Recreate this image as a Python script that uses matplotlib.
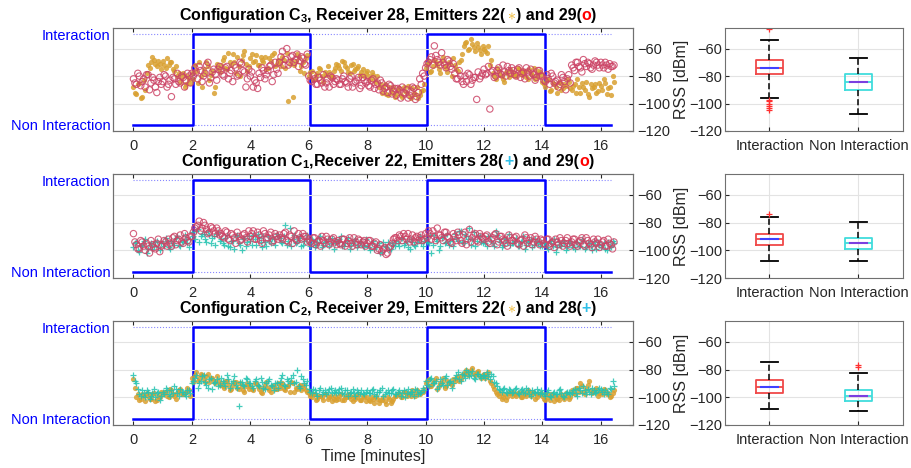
import numpy as np
import matplotlib
matplotlib.use('Agg')
import matplotlib.pyplot as plt
from matplotlib.offsetbox import TextArea, HPacker, AnchoredOffsetbox

plt.rcParams['font.family'] = ['Liberation Sans', 'DejaVu Sans']
plt.rcParams['mathtext.fontset'] = 'custom'
plt.rcParams['mathtext.rm'] = 'Liberation Sans'
plt.rcParams['mathtext.bf'] = 'Liberation Sans:bold'

# time axis: one sample every 0.1 minute from 0, second pass shifted by 0.05
t_start, t_step, t_shift = 0.0, 0.1, 0.05

# interaction state (1 = interaction, 0 = non interaction)
switch_times = [0, 2.05, 6.05, 10.05, 14.1, 16.35]
switch_state = [0, 1, 0, 1, 0, 0]

# configuration C3, receiver 28
c3_em22 = [-88, -93, -85, -95, -90, -72, -70, -68, -73, -71,
           -69, -74, -72, -70, -76, -80, -84, -78, -86, -82,
           -78, -72, -85, -80, -75, -70, -83, -76, -88, -74,
           -72, -66, -75, -70, -64, -78, -73, -68, -62, -76,
           -67, -70, -65, -72, -68, -66, -74, -69, -63, -71,
           -70, -66, -74, -98, -68, -72, -64, -76, -70, -67,
           -80, -76, -82, -78, -75, -84, -79, -77, -81, -74,
           -72, -76, -70, -74, -78, -71, -75, -73, -77, -80,
           -76, -82, -79, -84, -88, -92, -86, -94, -90, -88,
           -93, -89, -95, -91, -87, -96, -92, -88, -94, -90,
           -74, -70, -76, -68, -72, -78, -66, -74, -70, -80,
           -72, -76, -68, -58, -55, -60, -57, -62, -59, -64,
           -60, -63, -72, -78, -82, -76, -80, -84, -78, -75,
           -77, -80, -75, -79, -76, -82, -78, -74, -80, -77,
           -84, -88, -82, -90, -86, -92, -85, -89, -87, -84,
           -90, -86, -82, -92, -88, -84, -95, -89, -86, -91,
           -87, -82, -93, -88, -80]
c3_em22_b = [-92, -86, -96, -83, -78, -74, -66, -71, -69, -75,
             -72, -67, -70, -75, -73, -78, -81, -88, -80, -85,
             -82, -76, -70, -88, -78, -73, -79, -92, -71, -77,
             -68, -74, -63, -72, -70, -66, -80, -65, -71, -73,
             -64, -69, -72, -66, -70, -75, -67, -65, -73, -68,
             -73, -68, -63, -71, -95, -69, -66, -73, -78, -65,
             -77, -83, -79, -74, -80, -77, -73, -80, -76, -71,
             -74, -69, -73, -77, -72, -76, -74, -79, -75, -78,
             -80, -77, -83, -80, -86, -89, -93, -88, -92, -95,
             -90, -94, -88, -92, -95, -89, -93, -96, -91, -86,
             -71, -77, -73, -70, -75, -69, -73, -77, -71, -67,
             -75, -70, -64, -56, -61, -53, -59, -56, -61, -58,
             -62, -58, -68, -80, -74, -79, -82, -77, -81, -79,
             -79, -74, -78, -76, -81, -75, -79, -82, -76, -79,
             -86, -83, -91, -85, -88, -84, -90, -86, -82, -89,
             -87, -92, -88, -85, -90, -93, -86, -88, -92, -85,
             -90, -85, -89, -94, -84]
c3_em29 = [-82, -86, -80, -84, -88, -79, -85, -83, -92, -81,
           -84, -80, -86, -95, -82, -78, -85, -81, -83, -80,
           -78, -74, -82, -76, -80, -72, -85, -77, -79, -75,
           -76, -80, -73, -78, -84, -74, -79, -71, -77, -82,
           -80, -88, -85, -78, -74, -82, -76, -72, -79, -75,
           -70, -62, -68, -72, -66, -70, -64, -69, -67, -72,
           -80, -84, -82, -86, -83, -79, -85, -88, -81, -84,
           -83, -86, -80, -85, -82, -88, -84, -81, -87, -83,
           -84, -88, -82, -86, -90, -85, -89, -92, -87, -91,
           -94, -90, -88, -93, -96, -91, -89, -95, -82, -78,
           -74, -70, -66, -58, -68, -72, -70, -74, -69, -75,
           -78, -82, -80, -86, -84, -79, -83, -81, -77, -80,
           -75, -78, -104, -76, -80, -74, -79, -77, -73, -78,
           -76, -80, -74, -78, -82, -77, -75, -79, -81, -76,
           -80, -84, -82, -78, -85, -83, -86, -81, -90, -79,
           -72, -76, -70, -74, -68, -73, -71, -75, -69, -72,
           -70, -74, -72, -71, -73]
c3_em29_b = [-85, -78, -87, -82, -79, -90, -81, -88, -84, -86,
             -79, -88, -83, -81, -86, -84, -80, -88, -78, -85,
             -80, -77, -73, -84, -78, -70, -81, -75, -83, -73,
             -79, -74, -82, -76, -72, -80, -70, -76, -88, -75,
             -77, -83, -89, -81, -76, -79, -73, -84, -70, -78,
             -66, -72, -60, -70, -65, -68, -73, -66, -71, -64,
             -83, -79, -86, -81, -85, -88, -82, -80, -86, -82,
             -86, -82, -84, -88, -80, -85, -83, -89, -81, -85,
             -87, -83, -89, -85, -83, -91, -88, -86, -93, -89,
             -89, -96, -92, -90, -94, -88, -97, -92, -86, -80,
             -71, -68, -72, -65, -70, -63, -72, -68, -73, -71,
             -82, -76, -84, -80, -78, -86, -81, -97, -82, -78,
             -79, -73, -77, -81, -76, -78, -72, -80, -76, -74,
             -79, -75, -81, -77, -74, -80, -78, -83, -76, -80,
             -83, -79, -86, -80, -84, -88, -79, -84, -82, -85,
             -74, -70, -73, -77, -71, -70, -74, -72, -70, -74,
             -72, -70, -75, -73, -72]

# configuration C1, receiver 22
c1_em28 = [-98, -94, -101, -96, -92, -99, -95, -97, -93, -100,
           -95, -91, -98, -93, -96, -90, -97, -94, -92, -98,
           -87, -92, -85, -90, -88, -94, -89, -91, -96, -87,
           -92, -96, -89, -98, -93, -90, -95, -100, -91, -94,
           -93, -89, -96, -91, -98, -94, -90, -95, -92, -88,
           -91, -95, -82, -93, -97, -89, -94, -90, -96, -92,
           -95, -92, -98, -94, -90, -96, -93, -97, -91, -95,
           -94, -90, -97, -93, -99, -95, -92, -96, -94, -98,
           -96, -100, -93, -98, -95, -101, -97, -94, -99, -96,
           -93, -97, -91, -95, -98, -92, -96, -94, -90, -97,
           -91, -95, -102, -89, -93, -97, -90, -94, -96, -92,
           -88, -93, -86, -95, -90, -84, -92, -97, -89, -94,
           -93, -97, -90, -95, -86, -92, -98, -91, -94, -96,
           -95, -91, -97, -93, -99, -94, -92, -96, -93, -97,
           -97, -94, -99, -95, -92, -98, -96, -93, -100, -95,
           -96, -99, -94, -97, -93, -98, -95, -100, -96, -94,
           -98, -95, -100, -97, -93]
c1_em28_b = [-95, -100, -97, -93, -102, -96, -99, -94, -98, -95,
             -97, -93, -99, -95, -91, -96, -93, -89, -95, -92,
             -90, -86, -94, -88, -92, -86, -95, -90, -88, -93,
             -95, -91, -97, -93, -99, -89, -96, -92, -97, -90,
             -96, -92, -88, -94, -90, -97, -93, -91, -96, -90,
             -94, -90, -96, -84, -92, -95, -91, -97, -93, -89,
             -97, -93, -96, -91, -98, -94, -92, -95, -99, -93,
             -92, -97, -95, -91, -96, -93, -98, -94, -97, -92,
             -98, -95, -99, -96, -102, -94, -98, -100, -95, -97,
             -95, -91, -96, -93, -99, -94, -97, -92, -95, -93,
             -94, -89, -96, -92, -100, -91, -95, -88, -93, -97,
             -91, -86, -94, -88, -92, -96, -87, -93, -90, -95,
             -95, -90, -93, -97, -89, -94, -96, -92, -88, -95,
             -93, -97, -94, -90, -96, -93, -98, -92, -95, -94,
             -95, -98, -93, -97, -101, -94, -97, -95, -98, -93,
             -98, -94, -97, -92, -99, -95, -97, -93, -99, -96,
             -96, -99, -94, -98, -95]
c1_em29 = [-88, -96, -99, -94, -100, -97, -93, -98, -95, -101,
           -96, -94, -92, -97, -90, -93, -89, -95, -91, -94,
           -90, -84, -82, -86, -80, -85, -87, -84, -88, -86,
           -88, -91, -87, -93, -89, -95, -90, -92, -88, -94,
           -90, -86, -92, -89, -95, -88, -91, -87, -93, -90,
           -89, -92, -87, -94, -90, -86, -93, -91, -88, -90,
           -92, -95, -91, -94, -97, -93, -90, -96, -92, -94,
           -93, -96, -92, -95, -91, -97, -94, -92, -96, -93,
           -95, -93, -97, -94, -99, -101, -98, -102, -97, -92,
           -91, -89, -93, -90, -88, -92, -94, -90, -91, -93,
           -88, -86, -92, -90, -84, -89, -93, -87, -91, -95,
           -90, -87, -93, -89, -96, -85, -91, -88, -94, -90,
           -92, -89, -95, -91, -88, -94, -90, -93, -97, -91,
           -93, -90, -96, -92, -89, -95, -91, -94, -92, -96,
           -93, -96, -92, -95, -98, -94, -91, -97, -93, -95,
           -94, -92, -97, -93, -96, -91, -95, -98, -94, -92,
           -96, -93, -97, -95, -99]
c1_em29_b = [-94, -99, -93, -97, -95, -102, -96, -99, -92, -97,
             -93, -97, -95, -91, -96, -92, -94, -88, -93, -90,
             -87, -83, -79, -84, -82, -88, -83, -86, -84, -89,
             -90, -86, -92, -88, -91, -87, -93, -89, -91, -86,
             -88, -92, -87, -93, -86, -91, -89, -94, -88, -92,
             -91, -88, -93, -89, -95, -92, -88, -92, -90, -94,
             -94, -91, -96, -93, -90, -95, -92, -94, -91, -96,
             -95, -92, -97, -93, -95, -91, -96, -93, -94, -97,
             -93, -97, -95, -100, -96, -99, -103, -98, -95, -91,
             -93, -90, -88, -92, -94, -89, -91, -93, -89, -92,
             -91, -88, -86, -93, -89, -91, -87, -90, -94, -88,
             -93, -89, -95, -87, -92, -94, -89, -93, -88, -91,
             -90, -94, -92, -89, -96, -90, -92, -95, -89, -93,
             -91, -95, -93, -97, -91, -93, -96, -90, -94, -92,
             -95, -92, -97, -94, -92, -96, -93, -95, -91, -97,
             -92, -96, -94, -91, -97, -93, -96, -92, -95, -98,
             -94, -97, -92, -96, -94]

# configuration C2, receiver 29
c2_em22 = [-87, -100, -102, -98, -103, -99, -101, -97, -102, -100,
           -98, -96, -100, -95, -99, -97, -94, -98, -96, -95,
           -86, -84, -88, -83, -87, -85, -89, -86, -90, -88,
           -90, -93, -88, -95, -91, -89, -94, -92, -96, -90,
           -92, -95, -90, -94, -97, -91, -93, -96, -92, -94,
           -93, -90, -95, -92, -89, -96, -94, -91, -93, -95,
           -97, -100, -98, -101, -99, -102, -98, -100, -103, -99,
           -101, -98, -102, -100, -99, -103, -101, -98, -102, -100,
           -100, -103, -101, -99, -104, -102, -103, -100, -104, -101,
           -99, -97, -100, -96, -98, -99, -97, -95, -98, -96,
           -90, -87, -92, -88, -94, -90, -86, -92, -89, -91,
           -88, -85, -87, -83, -80, -82, -79, -84, -81, -86,
           -83, -85, -88, -92, -96, -99, -101, -98, -100, -97,
           -96, -99, -97, -100, -98, -95, -99, -97, -100, -98,
           -99, -102, -100, -98, -103, -101, -99, -100, -97, -101,
           -95, -98, -93, -90, -96, -94, -88, -97, -95, -99,
           -96, -94, -98, -100, -97]
c2_em22_b = [-93, -98, -101, -99, -97, -101, -98, -103, -99, -96,
             -96, -99, -94, -98, -101, -95, -98, -97, -93, -99,
             -89, -82, -86, -84, -89, -83, -86, -88, -85, -91,
             -92, -88, -91, -94, -89, -93, -90, -95, -92, -94,
             -94, -90, -92, -96, -93, -89, -95, -92, -94, -90,
             -91, -94, -92, -96, -90, -93, -92, -95, -91, -96,
             -99, -98, -102, -99, -100, -98, -101, -99, -101, -102,
             -99, -102, -100, -98, -101, -99, -100, -102, -99, -103,
             -102, -100, -104, -101, -102, -100, -105, -101, -103, -99,
             -98, -100, -96, -99, -97, -95, -99, -98, -96, -94,
             -88, -92, -90, -86, -92, -89, -93, -88, -90, -87,
             -86, -88, -84, -82, -84, -80, -83, -82, -85, -84,
             -86, -82, -90, -94, -98, -97, -100, -102, -97, -99,
             -98, -97, -100, -96, -99, -97, -96, -101, -98, -97,
             -101, -98, -102, -99, -100, -102, -98, -101, -99, -100,
             -97, -93, -96, -92, -98, -91, -95, -96, -93, -97,
             -98, -95, -97, -99, -95]
c2_em28 = [-84, -90, -98, -95, -100, -96, -99, -94, -97, -102,
           -96, -93, -98, -95, -92, -97, -94, -96, -99, -95,
           -90, -86, -93, -88, -84, -91, -87, -94, -89, -92,
           -86, -90, -84, -93, -88, -91, -106, -89, -92, -87,
           -90, -93, -87, -92, -89, -94, -88, -91, -95, -90,
           -89, -84, -92, -88, -86, -90, -80, -93, -87, -91,
           -94, -97, -95, -99, -93, -96, -98, -94, -97, -95,
           -96, -93, -98, -95, -97, -94, -99, -96, -95, -98,
           -95, -97, -94, -99, -96, -93, -98, -95, -97, -94,
           -98, -95, -97, -100, -94, -96, -99, -95, -97, -93,
           -88, -92, -86, -90, -94, -87, -91, -85, -89, -93,
           -86, -82, -88, -84, -80, -85, -81, -87, -83, -86,
           -84, -82, -87, -85, -90, -94, -96, -93, -97, -95,
           -96, -93, -98, -94, -97, -95, -99, -96, -94, -98,
           -97, -99, -95, -100, -96, -98, -94, -99, -97, -96,
           -97, -94, -99, -95, -92, -98, -96, -93, -97, -95,
           -94, -98, -96, -93, -88]
c2_em28_b = [-88, -94, -99, -97, -95, -101, -97, -100, -96, -99,
             -98, -95, -99, -97, -94, -99, -96, -98, -95, -97,
             -88, -84, -90, -85, -89, -93, -86, -90, -87, -91,
             -88, -92, -87, -90, -85, -93, -89, -91, -86, -90,
             -92, -88, -91, -86, -93, -90, -87, -92, -90, -93,
             -86, -91, -87, -90, -84, -89, -92, -85, -90, -88,
             -96, -94, -97, -95, -98, -95, -96, -93, -96, -97,
             -94, -97, -95, -99, -96, -97, -95, -98, -97, -96,
             -97, -95, -98, -96, -95, -99, -96, -97, -95, -98,
             -96, -99, -95, -97, -98, -96, -94, -98, -96, -95,
             -91, -87, -90, -88, -92, -90, -86, -91, -88, -90,
             -84, -87, -83, -86, -82, -84, -86, -83, -85, -84,
             -86, -85, -83, -89, -92, -95, -94, -96, -94, -97,
             -94, -97, -95, -96, -93, -98, -95, -97, -96, -95,
             -98, -96, -99, -97, -98, -95, -97, -100, -96, -98,
             -95, -97, -93, -97, -95, -94, -98, -95, -96, -93,
             -96, -95, -98, -94, -92]

# box plot statistics (Interaction, Non Interaction) per configuration
box_labels = ['Interaction', 'Non Interaction']
box_med = [[-74, -84], [-91.9, -95], [-92.7, -98.9]]
box_q1 = [[-78.8, -89.8], [-96.2, -98.8], [-97, -103]]
box_q3 = [[-68.2, -78.3], [-88, -91], [-87.7, -94.6]]
box_lo = [[-96.3, -107.6], [-108, -108], [-108.7, -109.9]]
box_hi = [[-53.5, -66.7], [-75.8, -79.4], [-74.6, -82.4]]
box_out = [[[-45.6, -97.5, -98.5, -100, -101.5, -103, -104.5], []],
           [[-73.7], []],
           [[], [-76.7, -78]]]

GOLD = '#D9A030'
RED = '#CC4466'
CYAN = '#22C2B0'
AXC = '#262626'
STAR_C, O_C, PLUS_C = '#EDB120', '#FF0000', '#30C0E8'


def title_parts(conf, rx, e1, m1, e2, m2):
    sym = {'star': ('$\\ast$', STAR_C), 'plus': ('+', PLUS_C), 'circle': ('o', O_C)}
    return [('Configuration C$_\\mathbf{%s}$%sReceiver %s, Emitters %s(' % (conf, rx[0], rx[1], e1), 'black'),
            sym[m1], (') and %s(' % e2, 'black'), sym[m2], (')', 'black')]


rows = [
    dict(title=title_parts('3', (', ', 28), 22, 'star', 29, 'circle'),
         series=[(c3_em22, c3_em22_b, 'star'), (c3_em29, c3_em29_b, 'circle')]),
    dict(title=title_parts('1', (',', 22), 28, 'plus', 29, 'circle'),
         series=[(c1_em28, c1_em28_b, 'plus'), (c1_em29, c1_em29_b, 'circle')]),
    dict(title=title_parts('2', (', ', 29), 22, 'star', 28, 'plus'),
         series=[(c2_em22, c2_em22_b, 'star'), (c2_em28, c2_em28_b, 'plus')]),
]

fig = plt.figure(figsize=(9.12, 4.68), dpi=100)
W, H = 912, 468
row_px = [(28, 131), (174, 278), (321, 425)]


def style_spines(a):
    for s in a.spines.values():
        s.set_color('#707070')
        s.set_linewidth(0.8)


def draw_points(a, vals, kind, shift):
    tt = t_start + shift + t_step * np.arange(len(vals))
    if kind == 'star':
        a.scatter(tt, vals, marker='o', s=14, color=GOLD, alpha=0.85, lw=0, zorder=2)
    elif kind == 'circle':
        a.scatter(tt, vals, marker='o', s=21, facecolors='none', edgecolors=RED,
                  linewidths=0.8, alpha=0.85, zorder=3)
    else:
        a.scatter(tt, vals, marker='+', s=25, color=CYAN, linewidths=0.9,
                  alpha=0.85, zorder=2)


for i, row in enumerate(rows):
    top, bot = row_px[i]
    ax = fig.add_axes([113 / W, 1 - bot / H, 520 / W, (bot - top) / H])
    ax2 = ax.twinx()

    # interaction state (left axis)
    ax.plot([switch_times[0], switch_times[-1]], [0, 0], ':', color='#8888FF', lw=0.8)
    ax.plot([switch_times[0], switch_times[-1]], [1, 1], ':', color='#8888FF', lw=0.8)
    ax.plot(switch_times, switch_state, drawstyle='steps-post', color='#0000FF', lw=1.8)
    ax.set_ylim(-0.07, 1.07)
    ax.set_yticks([0, 1])
    ax.set_yticklabels(['Non Interaction', 'Interaction'], color='#0000FF', fontsize=10.5)
    ax.set_xlim(-0.7, 17.1)
    ax.set_xticks(np.arange(0, 17, 2))
    ax.tick_params(axis='x', top=True, direction='in', length=3, labelsize=10.5,
                   colors=AXC, pad=6)
    ax.tick_params(axis='y', direction='in', length=0, pad=2)
    style_spines(ax)

    # RSS values (right axis)
    for vals_a, vals_b, kind in row['series']:
        draw_points(ax2, vals_a, kind, 0.0)
        draw_points(ax2, vals_b, kind, t_shift)
    ax2.set_ylim(-120, -45)
    ax2.set_yticks([-120, -100, -80, -60])
    ax2.tick_params(axis='y', direction='in', length=3, labelsize=10.5, colors=AXC, pad=3)
    ax2.grid(True, color='#E3E3E3', lw=0.8)
    ax2.set_axisbelow(True)
    style_spines(ax2)

    # title with coloured markers
    areas = []
    for s, c in row['title']:
        props = dict(color=c, fontsize=11.5, fontweight='bold',
                     family=['Liberation Sans', 'DejaVu Sans'])
        areas.append(TextArea(s, textprops=props))
    pack = HPacker(children=areas, align='baseline', pad=0, sep=0)
    anch = AnchoredOffsetbox(loc='lower center', child=pack, pad=0, borderpad=0, frameon=False,
                             bbox_to_anchor=(0.528, 1.03), bbox_transform=ax.transAxes)
    ax.add_artist(anch)

    if i == 2:
        ax.set_xlabel('Time [minutes]', fontsize=11.5, color=AXC, labelpad=1)

    # box plot
    axb = fig.add_axes([725 / W, 1 - bot / H, 178 / W, (bot - top) / H])
    edge = ['#F04848', '#40DCDC']
    mid = ['#4040FF', '#7A3FE0']
    for k in range(2):
        st = dict(med=box_med[i][k], q1=box_q1[i][k], q3=box_q3[i][k],
                  whislo=box_lo[i][k], whishi=box_hi[i][k],
                  fliers=box_out[i][k], label=box_labels[k])
        axb.bxp([st], positions=[k + 1], widths=0.31, capwidths=0.19,
                boxprops=dict(color=edge[k], lw=1.3),
                medianprops=dict(color=edge[k], lw=1.3),
                whiskerprops=dict(color='black', lw=1.1, linestyle=(0, (4, 2))),
                capprops=dict(color='black', lw=1.3),
                flierprops=dict(marker='+', markeredgecolor='#FF3030', markersize=5,
                                markeredgewidth=0.9))
        axb.plot([k + 1 - 0.09, k + 1 + 0.09], [box_med[i][k], box_med[i][k]],
                 color=mid[k], lw=1.5, zorder=4)
    axb.set_xlim(0.5, 2.5)
    axb.set_xticks([1, 2])
    axb.set_xticklabels(box_labels)
    axb.set_ylim(-120, -45)
    axb.set_yticks([-120, -100, -80, -60])
    axb.tick_params(axis='both', direction='in', length=3, colors=AXC)
    axb.tick_params(axis='x', labelsize=10.5, pad=6)
    axb.tick_params(axis='y', labelsize=10.5, pad=2)
    axb.grid(True, color='#E3E3E3', lw=0.8)
    axb.set_axisbelow(True)
    axb.set_ylabel('RSS [dBm]', fontsize=11.5, color=AXC)
    axb.yaxis.set_label_coords(-0.205, 0.5)
    style_spines(axb)

fig.savefig('out.png', dpi=100)
